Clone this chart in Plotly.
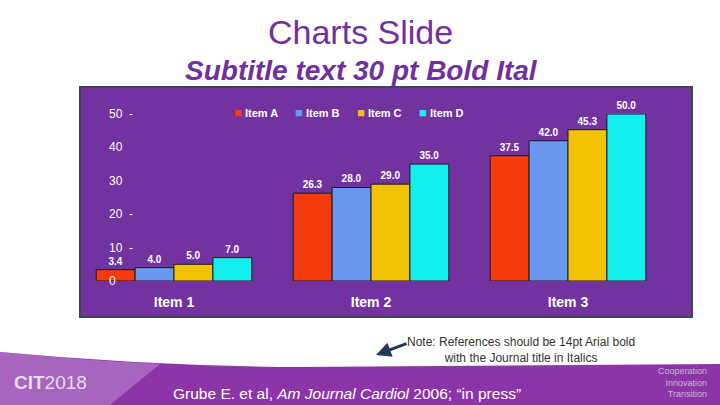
import plotly.graph_objects as go

categories = ["Item 1", "Item 2", "Item 3"]
series_names = ["Item A", "Item B", "Item C", "Item D"]
item_a = [3.4, 26.3, 37.5]
item_b = [4.0, 28.0, 42.0]
item_c = [5.0, 29.0, 45.3]
item_d = [7.0, 35.0, 50.0]
tick_vals = [0, 10, 20, 30, 40, 50]
tick_text = ["0", "10  -", "20  -", "30", "40", "50  -"]

colors = ["#F53A0C", "#6A98F0", "#F2C200", "#12F0EE"]
W, H = 720, 405

def px(x):
    return x / W

def py(y):
    return (H - y) / H

fig = go.Figure()
for name, vals, col in zip(series_names, [item_a, item_b, item_c, item_d], colors):
    fig.add_trace(go.Bar(
        x=categories, y=vals, name=name,
        marker=dict(color=col, line=dict(color="#1a1a1a", width=1)),
        text=[f"<b>{v:.1f}</b>" for v in vals], textposition="outside",
        textfont=dict(color="white", size=10, family="Liberation Sans"),
        cliponaxis=False,
    ))

shapes = [
    dict(type="rect", xref="paper", yref="paper", x0=px(80), x1=px(692), y0=py(317), y1=py(87),
         fillcolor="#7232A0", line=dict(color="#3E4656", width=2), layer="below"),
    dict(type="path", xref="paper", yref="paper",
         path=f"M 0 {py(352)} Q {px(150)} {py(366)} {px(300)} {py(367)} L 1 {py(364)} L 1 0 L 0 0 Z",
         fillcolor="#8C35A8", line=dict(width=0), layer="below"),
    dict(type="path", xref="paper", yref="paper",
         path=f"M 0 {py(352)} Q {px(80)} {py(360)} {px(160)} {py(364)} L {px(110)} 0 L 0 0 Z",
         fillcolor="rgba(200,160,215,0.45)", line=dict(width=0), layer="below"),
]

def txt(text, x, y, size, color, xanchor="center", align="center", family="Liberation Sans"):
    return dict(text=text, x=px(x), y=py(y), xref="paper", yref="paper", showarrow=False,
                xanchor=xanchor, yanchor="middle", align=align,
                font=dict(size=size, color=color, family=family))

narrow = "Liberation Sans Narrow, Liberation Sans"
annotations = [
    txt("Charts Slide", 360, 32, 34, "#7030A0"),
    txt("<b><i>Subtitle text 30 pt Bold Ital</i></b>", 361, 70, 28, "#7030A0"),
    txt("Note: References should be 14pt Arial bold<br>with the Journal title in Italics", 521, 350, 12,
        "#333333", family=narrow),
    dict(text="", x=px(376), y=py(355), ax=32, ay=-12, xref="paper", yref="paper",
         axref="pixel", ayref="pixel", showarrow=True, arrowhead=2, arrowsize=1, arrowwidth=3,
         arrowcolor="#1F3A5A"),
    txt("Grube E. et al, <i>Am Journal Cardiol</i> 2006; “in press”", 347, 393, 15.5, "white"),
    txt("<b>CIT</b>2018", 12, 382, 19, "#E6DCEB", xanchor="left", family=narrow),
    txt("Cooperation<br>Innovation<br>Transition", 709, 382, 9, "#C8B8D6", xanchor="right",
        align="right", family=narrow),
]
for v, t in zip(tick_vals, tick_text):
    annotations.append(dict(text=t, x=px(107), y=v, xref="paper", yref="y", xanchor="left",
                            yanchor="middle", showarrow=False,
                            font=dict(size=12, color="white", family="Liberation Sans")))

legend_x = [232, 293, 355, 417]
for name, col, lx in zip(series_names, colors, legend_x):
    annotations.append(txt(f"<span style='color:{col};font-size:13px'>■</span> <b>{name}</b>", lx, 112, 11,
                           "white", xanchor="left"))

fig.update_layout(
    width=W, height=H, margin=dict(l=0, r=0, t=0, b=0),
    paper_bgcolor="white", plot_bgcolor="rgba(0,0,0,0)",
    barmode="group", bargap=0.21, bargroupgap=0,
    shapes=shapes, annotations=annotations,
    showlegend=False,
    xaxis=dict(domain=[px(75.5), px(666.5)], showgrid=False, zeroline=False, showline=False,
               ticks="outside", ticklen=8, tickcolor="rgba(0,0,0,0)",
               tickprefix="<b>", ticksuffix="</b>",
               tickfont=dict(size=14, color="white", family="Liberation Sans")),
    yaxis=dict(domain=[py(281), py(114)], range=[0, 50], showgrid=False, zeroline=False,
               showticklabels=False, showline=False),
)
fig.write_html("out.html", config={"displayModeBar": False},
               post_script="document.body.style.margin='0px';")
